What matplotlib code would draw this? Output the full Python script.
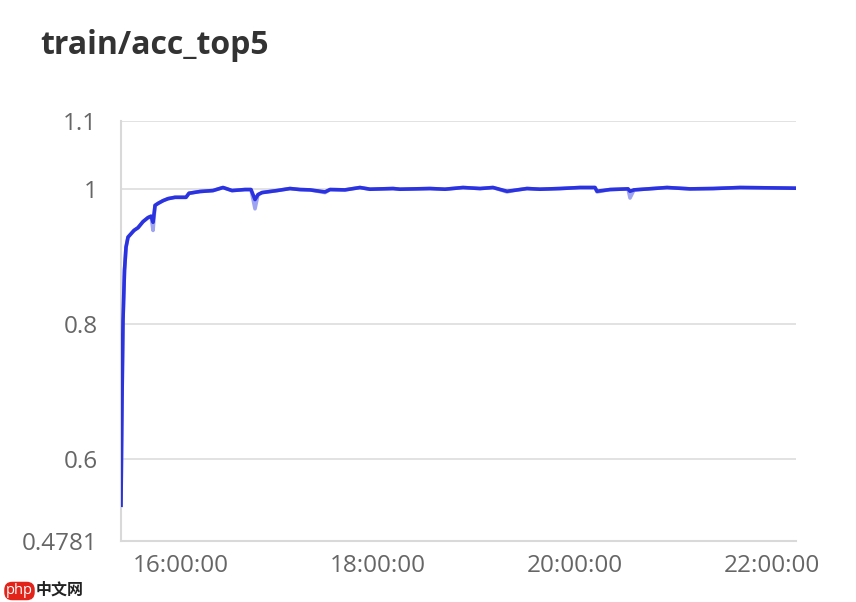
import matplotlib
matplotlib.use("Agg")
import matplotlib.pyplot as plt
import matplotlib.dates as mdates
from datetime import datetime

plt.rcParams['font.family'] = ['Open Sans', 'Noto Sans CJK SC', 'DejaVu Sans']

title = "train/acc_top5"

times = ["15:23:27", "15:24:04", "15:24:40", "15:25:35", "15:26:30", "15:27:43",
         "15:29:33", "15:31:23", "15:33:49", "15:36:52", "15:39:55", "15:41:45",
         "15:42:58", "15:44:11", "15:46:01", "15:49:02", "15:52:05", "15:56:21",
         "16:03:03", "16:04:52", "16:11:34", "16:19:29", "16:25:35", "16:31:04",
         "16:38:59", "16:42:38", "16:45:04", "16:46:54", "16:49:20", "16:58:28",
         "17:06:23", "17:12:29", "17:18:35", "17:27:42", "17:30:45", "17:39:53",
         "17:49:00", "17:55:07", "18:09:08", "18:13:23", "18:31:40", "18:40:48",
         "18:51:46", "19:02:08", "19:10:02", "19:18:34", "19:23:26", "19:30:45",
         "19:38:40", "19:50:51", "20:03:02", "20:12:10", "20:13:23", "20:21:18",
         "20:32:16", "20:33:29", "20:35:55", "20:56:02", "21:10:02", "21:24:02",
         "21:40:29", "21:58:46", "22:14:35"]

smoothed = [0.531, 0.686, 0.805, 0.879, 0.913, 0.928,
            0.933, 0.938, 0.942, 0.951, 0.957, 0.959,
            0.950, 0.975, 0.978, 0.982, 0.985, 0.987,
            0.987, 0.993, 0.9956, 0.997, 1.0015, 0.997,
            0.9985, 0.9985, 0.9837, 0.991, 0.994, 0.997,
            1.000, 0.9985, 0.998, 0.995, 0.9985, 0.998,
            1.0015, 0.999, 1.000, 0.999, 1.000, 0.999,
            1.0015, 1.000, 1.0015, 0.996, 0.9975, 1.000,
            0.999, 1.000, 1.0015, 1.0015, 0.996, 0.9985,
            0.9995, 0.996, 0.998, 1.0015, 0.9995, 1.000,
            1.0015, 1.001, 1.0005]

raw = [0.531, 0.686, 0.805, 0.879, 0.913, 0.928,
       0.933, 0.938, 0.942, 0.951, 0.957, 0.959,
       0.938, 0.975, 0.978, 0.982, 0.985, 0.987,
       0.987, 0.993, 0.9956, 0.997, 1.0015, 0.997,
       0.9985, 0.9985, 0.970, 0.991, 0.994, 0.997,
       1.000, 0.9985, 0.998, 0.994, 0.9985, 0.998,
       1.0015, 0.999, 1.000, 0.999, 1.000, 0.999,
       1.0015, 1.000, 1.0015, 0.995, 0.9975, 1.000,
       0.999, 1.000, 1.0015, 1.0015, 0.995, 0.9985,
       0.9995, 0.986, 0.998, 1.0015, 0.9995, 1.000,
       1.0015, 1.001, 1.0005]

y_ticks = [0.4781, 0.6, 0.8, 1.0, 1.1]
y_tick_labels = ["0.4781", "0.6", "0.8", "1", "1.1"]
x_ticks = ["16:00:00", "18:00:00", "20:00:00", "22:00:00"]

def to_dt(s):
    return datetime.strptime("2020-01-01 " + s, "%Y-%m-%d %H:%M:%S")

t = [to_dt(s) for s in times]
xt = [to_dt(s) for s in x_ticks]

fig = plt.figure(figsize=(8.56, 6.02), dpi=100)
ax = fig.add_axes([121/856, 1 - 541/602, (796 - 121)/856, (541 - 121)/602])

ax.plot(t, raw, color="#9ea3f2", lw=2.6, solid_joinstyle="round", zorder=2)
ax.plot(t, smoothed, color="#2b33e0", lw=2.6, solid_joinstyle="round", zorder=3)

ax.set_ylim(0.4781, 1.1)
ax.set_xlim(t[0], t[-1])
ax.set_yticks(y_ticks)
ax.set_yticklabels(y_tick_labels)
ax.set_xticks(xt)
ax.set_xticklabels(x_ticks)

ax.grid(axis='y', color="#dddddd", lw=1.2)
for s in ["top", "right"]:
    ax.spines[s].set_visible(False)
for s in ["left", "bottom"]:
    ax.spines[s].set_color("#d9d9d9")
    ax.spines[s].set_linewidth(1.5)
ax.tick_params(axis='both', length=0, colors="#666666", labelsize=17.5)
ax.tick_params(axis='y', pad=17)
ax.tick_params(axis='x', pad=9)

fig.text(40/856, 1 - 45/602, title, fontsize=23, fontweight='bold',
         color="#333333", va='center', ha='left')

# watermark
fig.text(6/856, 1 - 591/602, "php", fontsize=10.5, color="white", va='center', ha='left',
         bbox=dict(boxstyle="round,pad=0.12,rounding_size=0.55", fc="#e2231a", ec="none"))
fig.text(36/856, 1 - 591/602, "中文网", fontsize=11.5, color="#222222", va='center', ha='left',
         fontweight='bold')

fig.savefig("out.png", dpi=100)
